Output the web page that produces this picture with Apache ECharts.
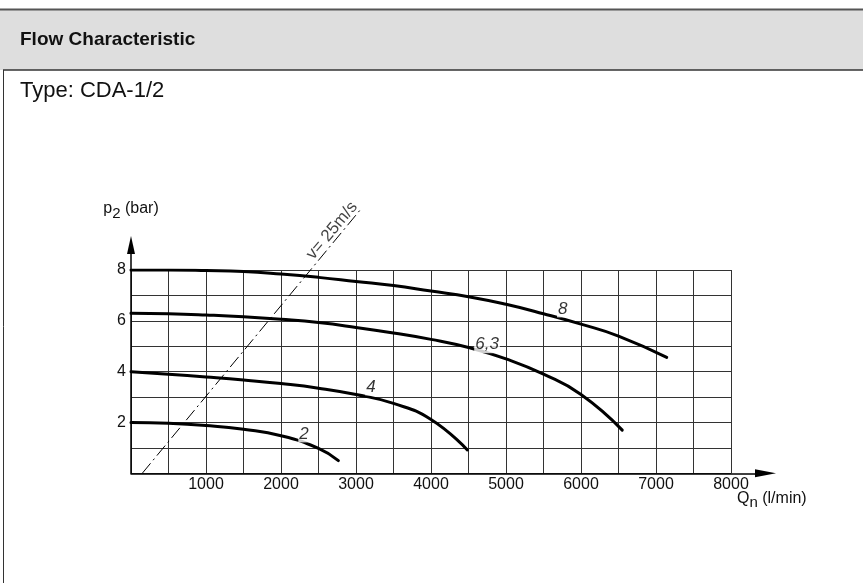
<!DOCTYPE html>
<html>
<head>
<meta charset="utf-8">
<script src="https://cdn.jsdelivr.net/npm/echarts@6/dist/echarts.min.js"></script>
<style>html,body{margin:0;padding:0;background:#fff;}#c{width:863px;height:583px;}</style>
</head>
<body>
<div id="c"></div>
<script>
// ---- data ----
const xTickValues = [1000, 2000, 3000, 4000, 5000, 6000, 7000, 8000];
const yTickValues = [2, 4, 6, 8];
const curve8  = [[0,8.0],[500,8.0],[1000,7.98],[1500,7.94],[2000,7.84],[2500,7.71],[3000,7.55],[3500,7.39],[4000,7.17],[4500,6.95],[5000,6.65],[5500,6.28],[6000,5.87],[6500,5.4],[7143,4.56]];
const curve63 = [[0,6.3],[500,6.28],[1000,6.23],[1500,6.16],[2000,6.06],[2500,5.93],[3000,5.74],[3500,5.52],[4000,5.27],[4500,4.95],[5000,4.5],[5500,3.9],[6000,3.1],[6550,1.7]];
const curve4  = [[0,4.0],[500,3.9],[1000,3.79],[1500,3.67],[2000,3.53],[2500,3.35],[3000,3.1],[3500,2.75],[4000,2.12],[4485,0.92]];
const curve2  = [[0,2.0],[500,1.97],[1000,1.88],[1500,1.73],[2000,1.48],[2500,0.98],[2765,0.5]];
const velocityLine = [[150,0],[3080,10.45]];
const curveNames = ['8', '6,3', '4', '2'];
const labelAnchors = [[5756,6.47],[4747,5.06],[3200,3.40],[2307,1.55]];
const velocityText = 'v= 25m/s';
const velocityAnchor = [[2680,9.55]];

const chart = echarts.init(document.getElementById('c'));
const FONT = '"Liberation Sans", Arial, sans-serif';
const curveStyle = {color:'#000', width:3, cap:'round'};
function curve(data){
  return {type:'line', xAxisIndex:0, yAxisIndex:0, data:data, smooth:0.5, showSymbol:false, symbol:'none',
    lineStyle:curveStyle, silent:true, z:5};
}
const option = {
  animation:false,
  backgroundColor:'#fff',
  textStyle:{fontFamily:FONT},
  graphic:[
    {type:'rect', shape:{x:0,y:9,width:863,height:61}, style:{fill:'#dedede'}, z:-1},
    {type:'line', shape:{x1:0,y1:9.5,x2:863,y2:9.5}, style:{stroke:'#555',lineWidth:2}},
    {type:'line', shape:{x1:3,y1:70,x2:863,y2:70}, style:{stroke:'#333',lineWidth:1.5}},
    {type:'line', shape:{x1:3.5,y1:70,x2:3.5,y2:583}, style:{stroke:'#333',lineWidth:1}},
    {type:'text', x:20, y:40, style:{text:'Flow Characteristic', fontFamily:FONT, fontWeight:'bold', fontSize:19, fill:'#111', verticalAlign:'middle'}},
    {type:'text', x:20, y:91, style:{text:'Type: CDA-1/2', fontFamily:FONT, fontSize:22, fill:'#111', verticalAlign:'middle'}}
  ],
  grid:[
    {left:131, top:270, width:600, height:203.3},
    {left:131, top:245, width:634.5, height:228.3}
  ],
  xAxis:[
    {type:'value', gridIndex:0, min:0, max:8000, interval:500,
     axisLine:{show:false}, axisTick:{show:false},
     splitLine:{show:true, lineStyle:{color:'#333', width:1}},
     axisLabel:{customValues:xTickValues, formatter:v => String(v), fontSize:16, color:'#111', margin:3, fontFamily:FONT},
     name:'{a|Q}{s|n}{a| (l/min)}', nameLocation:'end', nameGap:6, nameMoveOverlap:false,
     nameTextStyle:{align:'left', verticalAlign:'top', padding:[17,0,0,0],
       rich:{a:{fontSize:16, color:'#111', fontFamily:FONT, lineHeight:16, verticalAlign:'top'},
             s:{fontSize:15, color:'#111', fontFamily:FONT, lineHeight:25}}}},
    {type:'value', gridIndex:1, min:0, max:8460,
     axisLine:{show:true, lineStyle:{color:'#000', width:1.5}, symbol:['none','triangle'], symbolSize:[8,21]},
     axisTick:{show:false}, axisLabel:{show:false}, splitLine:{show:false}}
  ],
  yAxis:[
    {type:'value', gridIndex:0, min:0, max:8, interval:1,
     axisLine:{show:false}, axisTick:{show:false},
     splitLine:{show:true, lineStyle:{color:'#333', width:1}},
     axisLabel:{customValues:yTickValues, formatter:v => String(v), fontSize:16, color:'#111', margin:5, fontFamily:FONT}},
    {type:'value', gridIndex:1, min:0, max:9,
     axisLine:{show:true, lineStyle:{color:'#000', width:1.5}, symbol:['none','triangle'], symbolSize:[8,18]},
     axisTick:{show:false}, axisLabel:{show:false}, splitLine:{show:false},
     name:'{a|p}{s|2}{a| (bar)}', nameLocation:'end', nameGap:19, nameMoveOverlap:false,
     nameTextStyle:{align:'center',
       rich:{a:{fontSize:16, color:'#111', fontFamily:FONT, lineHeight:16, verticalAlign:'top'},
             s:{fontSize:15, color:'#111', fontFamily:FONT, lineHeight:25}}}}
  ],
  series:[
    curve(curve8), curve(curve63), curve(curve4), curve(curve2),
    {type:'line', xAxisIndex:0, yAxisIndex:0, data:velocityLine, clip:false, showSymbol:false, symbol:'none',
     lineStyle:{color:'#000', width:1, type:[13,4,2,4]}, silent:true, z:4},
    {type:'scatter', xAxisIndex:0, yAxisIndex:0, symbolSize:0, clip:false, silent:true, z:6,
     data:velocityAnchor.map(p => ({value:p, label:{formatter:velocityText}})),
     label:{show:true, position:'inside', rotate:50, fontSize:17, color:'#111', fontFamily:FONT}},
    {type:'scatter', xAxisIndex:0, yAxisIndex:0, symbolSize:0, clip:false, silent:true, z:6,
     data:labelAnchors.map((p,i) => ({value:p, label:{formatter:curveNames[i]}})),
     label:{show:true, position:'inside', fontSize:17, fontStyle:'italic', color:'#000', fontFamily:FONT,
            backgroundColor:'#fff', padding:[0,1]}}
  ]
};
chart.setOption(option);
</script>
</body>
</html>
